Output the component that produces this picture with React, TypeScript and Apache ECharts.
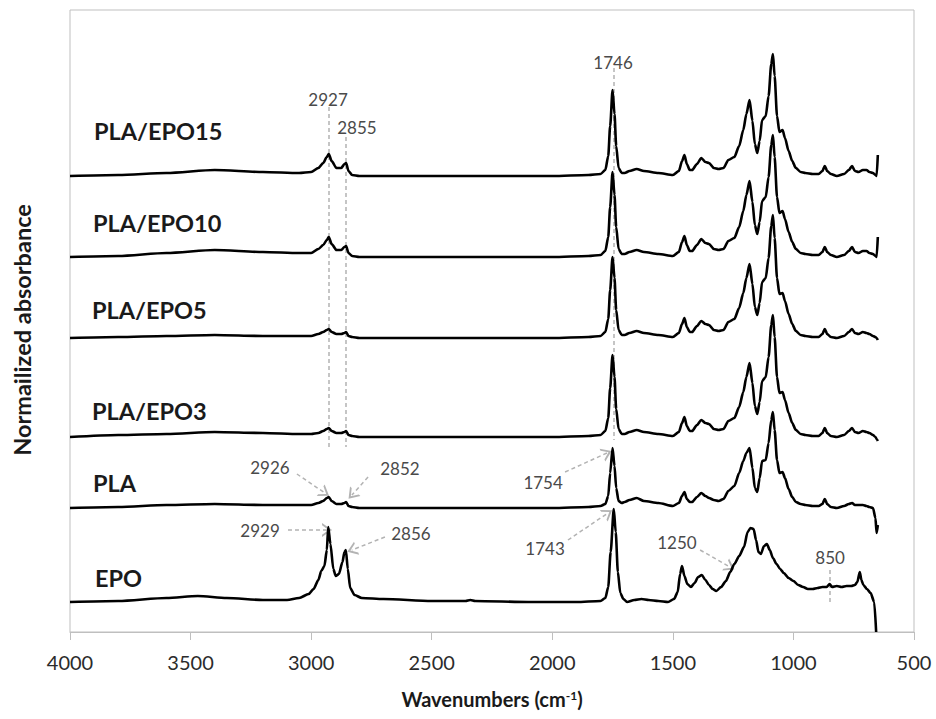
import React, { useEffect, useRef } from "react";
import * as echarts from "echarts";

// ---------- DATA ----------
// Wavenumbers (cm-1) shared by the PLA-based spectra
const plaWavenumbers = [
  4000, 3800, 3600, 3400, 3200, 3050, 3000, 2970, 2950, 2935,
  2927, 2915, 2895, 2875, 2862, 2855, 2845, 2830, 2800, 2600,
  2400, 2200, 2000, 1850, 1800, 1780, 1768, 1760, 1750, 1742,
  1735, 1725, 1712, 1700, 1680, 1650, 1620, 1560, 1500, 1475,
  1462, 1452, 1442, 1430, 1420, 1400, 1382, 1365, 1350, 1330,
  1310, 1290, 1270, 1245, 1225, 1208, 1195, 1182, 1170, 1160,
  1150, 1140, 1130, 1115, 1103, 1092, 1085, 1078, 1068, 1058,
  1045, 1035, 1020, 1005, 990, 970, 950, 920, 895, 880,
  870, 860, 845, 820, 790, 770, 757, 745, 730, 712,
  697, 685, 670, 660, 655, 650,
];

// Normalized absorbance of each spectrum (relative to its own baseline)
const plaEpo15 = [
  0.00, 0.01, 0.03, 0.06, 0.04, 0.03, 0.04, 0.08, 0.13, 0.19,
  0.22, 0.15, 0.08, 0.08, 0.12, 0.13, 0.05, 0.01, 0.00, 0.00,
  0.00, 0.00, 0.00, 0.01, 0.02, 0.06, 0.20, 0.50, 0.86, 0.62,
  0.30, 0.08, 0.03, 0.03, 0.05, 0.07, 0.05, 0.03, 0.01, 0.05,
  0.15, 0.21, 0.12, 0.06, 0.06, 0.12, 0.18, 0.14, 0.13, 0.08,
  0.07, 0.08, 0.16, 0.19, 0.30, 0.46, 0.62, 0.76, 0.55, 0.32,
  0.23, 0.35, 0.56, 0.60, 0.80, 1.12, 1.22, 1.00, 0.60, 0.44,
  0.46, 0.38, 0.25, 0.15, 0.08, 0.04, 0.03, 0.02, 0.02, 0.05,
  0.10, 0.05, 0.02, 0.00, 0.02, 0.06, 0.10, 0.05, 0.04, 0.06,
  0.06, 0.04, 0.03, 0.01, 0.00, 0.21,
];
const plaEpo10 = [
  0.00, 0.01, 0.04, 0.07, 0.05, 0.04, 0.04, 0.08, 0.12, 0.17,
  0.20, 0.13, 0.07, 0.07, 0.10, 0.11, 0.04, 0.01, 0.00, 0.00,
  0.00, 0.00, 0.00, 0.01, 0.02, 0.06, 0.20, 0.50, 0.85, 0.62,
  0.30, 0.08, 0.03, 0.03, 0.05, 0.07, 0.05, 0.03, 0.01, 0.05,
  0.15, 0.21, 0.12, 0.06, 0.06, 0.12, 0.18, 0.14, 0.13, 0.08,
  0.07, 0.08, 0.16, 0.19, 0.30, 0.46, 0.62, 0.76, 0.55, 0.32,
  0.23, 0.35, 0.56, 0.60, 0.80, 1.12, 1.22, 1.00, 0.60, 0.44,
  0.46, 0.38, 0.25, 0.15, 0.08, 0.04, 0.03, 0.02, 0.02, 0.05,
  0.10, 0.05, 0.02, 0.00, 0.02, 0.06, 0.10, 0.05, 0.04, 0.06,
  0.06, 0.04, 0.03, 0.01, 0.00, 0.20,
];
const plaEpo5 = [
  0.00, 0.01, 0.02, 0.03, 0.02, 0.02, 0.02, 0.04, 0.06, 0.08,
  0.09, 0.06, 0.04, 0.04, 0.05, 0.06, 0.02, 0.01, 0.00, 0.00,
  0.00, 0.00, 0.00, 0.01, 0.02, 0.06, 0.19, 0.48, 0.81, 0.60,
  0.28, 0.08, 0.03, 0.03, 0.05, 0.07, 0.05, 0.03, 0.01, 0.05,
  0.14, 0.20, 0.11, 0.06, 0.06, 0.12, 0.17, 0.14, 0.13, 0.08,
  0.07, 0.08, 0.16, 0.19, 0.30, 0.45, 0.60, 0.74, 0.54, 0.31,
  0.23, 0.35, 0.56, 0.60, 0.80, 1.12, 1.23, 1.00, 0.60, 0.44,
  0.45, 0.37, 0.24, 0.14, 0.07, 0.03, 0.02, 0.01, 0.01, 0.04,
  0.09, 0.04, 0.01, 0.00, 0.02, 0.06, 0.09, 0.05, 0.04, 0.06,
  0.05, 0.04, 0.02, 0.01, 0.00, -0.02,
];
const plaEpo3 = [
  0.00, 0.02, 0.03, 0.05, 0.04, 0.03, 0.03, 0.04, 0.06, 0.08,
  0.09, 0.06, 0.04, 0.04, 0.05, 0.06, 0.02, 0.01, 0.00, 0.00,
  0.00, 0.00, 0.00, 0.01, 0.02, 0.06, 0.19, 0.49, 0.82, 0.60,
  0.28, 0.08, 0.03, 0.03, 0.05, 0.07, 0.05, 0.03, 0.01, 0.05,
  0.14, 0.20, 0.11, 0.06, 0.06, 0.12, 0.17, 0.14, 0.13, 0.08,
  0.07, 0.08, 0.16, 0.19, 0.30, 0.45, 0.60, 0.74, 0.54, 0.31,
  0.23, 0.35, 0.56, 0.60, 0.80, 1.12, 1.22, 1.00, 0.60, 0.44,
  0.45, 0.37, 0.24, 0.14, 0.07, 0.03, 0.02, 0.01, 0.01, 0.04,
  0.09, 0.04, 0.01, 0.00, 0.02, 0.06, 0.09, 0.05, 0.04, 0.06,
  0.05, 0.04, 0.02, 0.00, -0.02, -0.04,
];
const pla = [
  0.00, 0.01, 0.03, 0.04, 0.03, 0.03, 0.03, 0.05, 0.07, 0.10,
  0.11, 0.07, 0.04, 0.04, 0.05, 0.06, 0.02, 0.01, 0.00, 0.00,
  0.00, 0.00, 0.00, 0.01, 0.02, 0.04, 0.12, 0.35, 0.60, 0.42,
  0.20, 0.07, 0.05, 0.06, 0.08, 0.10, 0.07, 0.05, 0.02, 0.05,
  0.12, 0.16, 0.09, 0.06, 0.06, 0.11, 0.15, 0.12, 0.10, 0.08,
  0.07, 0.09, 0.17, 0.22, 0.35, 0.47, 0.55, 0.60, 0.40, 0.20,
  0.16, 0.30, 0.47, 0.48, 0.65, 0.88, 0.96, 0.78, 0.48, 0.35,
  0.36, 0.30, 0.19, 0.11, 0.06, 0.04, 0.03, 0.02, 0.02, 0.04,
  0.09, 0.04, 0.01, 0.00, 0.02, 0.04, 0.05, 0.03, 0.03, 0.03,
  0.02, 0.01, 0.00, -0.10, -0.25, -0.17,
];

// EPO spectrum
const epoWavenumbers = [
  4000, 3800, 3600, 3470, 3350, 3200, 3100, 3050, 3010, 2990,
  2970, 2958, 2945, 2935, 2929, 2920, 2908, 2898, 2885, 2870,
  2862, 2856, 2848, 2838, 2820, 2790, 2700, 2500, 2360, 2340,
  2320, 2100, 1900, 1800, 1780, 1768, 1758, 1745, 1737, 1728,
  1718, 1705, 1690, 1660, 1630, 1600, 1560, 1520, 1495, 1480,
  1470, 1462, 1452, 1440, 1425, 1410, 1395, 1380, 1365, 1350,
  1335, 1320, 1300, 1280, 1262, 1245, 1225, 1205, 1190, 1178,
  1165, 1155, 1145, 1135, 1122, 1110, 1098, 1085, 1070, 1055,
  1040, 1020, 1000, 980, 960, 940, 920, 900, 880, 862,
  850, 840, 820, 800, 780, 760, 745, 735, 725, 718,
  710, 695, 680, 665, 657,
];
const epo = [
  0.00, 0.01, 0.04, 0.06, 0.04, 0.02, 0.02, 0.04, 0.08, 0.13,
  0.22, 0.31, 0.36, 0.52, 0.75, 0.58, 0.33, 0.26, 0.28, 0.40,
  0.50, 0.52, 0.33, 0.14, 0.07, 0.04, 0.03, 0.01, 0.01, 0.02,
  0.01, 0.00, 0.00, 0.01, 0.04, 0.15, 0.50, 0.93, 0.70, 0.30,
  0.09, 0.03, 0.00, 0.02, 0.03, 0.02, 0.01, 0.00, 0.03, 0.10,
  0.28, 0.36, 0.26, 0.18, 0.15, 0.19, 0.25, 0.27, 0.22, 0.17,
  0.13, 0.11, 0.15, 0.21, 0.30, 0.38, 0.46, 0.55, 0.70, 0.74,
  0.73, 0.62, 0.50, 0.48, 0.56, 0.58, 0.52, 0.44, 0.38, 0.33,
  0.29, 0.24, 0.21, 0.17, 0.15, 0.13, 0.13, 0.14, 0.15, 0.15,
  0.18, 0.15, 0.16, 0.15, 0.16, 0.16, 0.17, 0.20, 0.30, 0.22,
  0.17, 0.13, 0.09, 0.00, -0.30,
];

const plaSeriesNames = ["PLA/EPO15", "PLA/EPO10", "PLA/EPO5", "PLA/EPO3", "PLA"];
const plaSeriesValues = [plaEpo15, plaEpo10, plaEpo5, plaEpo3, pla];
// vertical stacking offsets of the spectra
const plaOffsets = [4.56, 3.75, 2.94, 1.95, 1.24];
const epoName = "EPO";
const epoOffset = 0.3;

const xTickLabels = [4000, 3500, 3000, 2500, 2000, 1500, 1000, 500];

// ---------- ANNOTATION LAYOUT ----------
const guideLines = [
  // [wavenumber, from, to]
  [2927, 5.25, 1.85],
  [2855, 4.95, 1.85],
  [1746, 5.64, 1.92],
  [850, 0.62, 0.3],
];
const arrowLines = [
  // [x1, y1, x2, y2]
  [3059, 1.58, 2943, 1.39],
  [2764, 1.55, 2831, 1.37],
  [3096, 1.02, 2934, 1.02],
  [2694, 0.95, 2831, 0.82],
  [1947, 1.6, 1773, 1.79],
  [1935, 0.92, 1769, 1.19],
  [1387, 0.82, 1263, 0.65],
];
const peakLabels: [string, number, number][] = [
  ["2927", 2930, 5.33],
  ["2855", 2810, 5.05],
  ["1746", 1748, 5.7],
  ["2926", 3171, 1.65],
  ["2852", 2632, 1.64],
  ["2929", 3212, 1.02],
  ["2856", 2586, 0.99],
  ["1754", 2038, 1.5],
  ["1743", 2030, 0.84],
  ["1250", 1483, 0.9],
  ["850", 848, 0.75],
];
const nameLabelPos = [
  [94, 133],
  [93, 225],
  [92, 312],
  [92, 413],
  [93, 485],
  [95, 580],
];

const chevron = "path://M5,0 L10,10 L8.4,10 L5,3.4 L1.6,10 L0,10 Z";
const FONT = "Lato, 'Open Sans', sans-serif";

export default function App() {
  const ref = useRef<HTMLDivElement>(null);
  useEffect(() => {
    if (!ref.current) return;
    const chart = echarts.init(ref.current, undefined, { renderer: "svg" });

    const lineStyle = { color: "#000", width: 2.6 };
    const plaSeries = plaSeriesNames.map((name, i) => ({
      name,
      type: "line",
      showSymbol: false,
      symbol: "none",
      smooth: 0.25,
      smoothMonotone: "x",
      lineStyle,
      z: 3,
      data: plaWavenumbers.map((w, j) => [w, plaSeriesValues[i][j] + plaOffsets[i]]),
    }));

    const markLineData: any[] = [];
    guideLines.forEach(([w, a, b]) => {
      markLineData.push([
        { coord: [w, a], symbol: "none" },
        { coord: [w, b], symbol: "none" },
      ]);
    });
    arrowLines.forEach(([x1, y1, x2, y2]) => {
      markLineData.push([
        { coord: [x1, y1], symbol: "none" },
        { coord: [x2, y2], symbol: chevron, symbolSize: [14, 10] },
      ]);
    });

    const epoSeries = {
      name: epoName,
      type: "line",
      showSymbol: false,
      symbol: "none",
      smooth: 0.25,
      smoothMonotone: "x",
      lineStyle,
      z: 3,
      data: epoWavenumbers.map((w, j) => [w, epo[j] + epoOffset]),
      markLine: {
        silent: true,
        animation: false,
        z: 1,
        symbol: ["none", "none"],
        label: { show: false },
        lineStyle: { color: "#b3b3b3", width: 1.5, type: [4, 3] },
        emphasis: { disabled: true },
        data: markLineData,
      },
      markPoint: {
        silent: true,
        animation: false,
        symbol: "rect",
        symbolSize: 1,
        itemStyle: { color: "rgba(0,0,0,0)" },
        label: {
          show: true,
          position: "inside",
          formatter: "{b}",
          fontFamily: FONT,
          fontSize: 17,
          color: "#4a4a4a",
        },
        data: peakLabels.map(([t, w, v]) => ({ name: t, coord: [w, v] })),
      },
    };

    const allNames = [...plaSeriesNames, epoName];
    const graphic: any[] = allNames.map((n, i) => ({
      type: "text",
      left: nameLabelPos[i][0],
      top: nameLabelPos[i][1] - 14,
      style: {
        text: n,
        fontFamily: FONT,
        fontWeight: "bold",
        fontSize: 23.5,
        fill: "#1a1a1a",
      },
    }));
    graphic.push({
      type: "text",
      x: 22,
      y: 330,
      rotation: Math.PI / 2,
      style: {
        text: "Normailized absorbance",
        fontFamily: FONT,
        fontWeight: "bold",
        fontSize: 23.5,
        fill: "#1a1a1a",
        align: "center",
        verticalAlign: "middle",
      },
    });

    chart.setOption({
      animation: false,
      backgroundColor: "#fff",
      grid: {
        left: 70,
        right: 22,
        top: 10,
        bottom: 87,
        show: true,
        borderColor: "#bfbfbf",
        borderWidth: 1,
      },
      xAxis: {
        type: "value",
        inverse: true,
        min: xTickLabels[xTickLabels.length - 1],
        max: xTickLabels[0],
        interval: 500,
        axisLine: { show: true, lineStyle: { color: "#bfbfbf", width: 1 } },
        axisTick: { show: true, length: 8, lineStyle: { color: "#bfbfbf" } },
        splitLine: { show: false },
        axisLabel: {
          margin: 20,
          fontFamily: FONT,
          fontSize: 20,
          color: "#2b2b2b",
          formatter: (v: number) => String(v),
        },
        name: "Wavenumbers (cm{sup|-1})",
        nameLocation: "middle",
        nameGap: 57,
        nameTextStyle: {
          fontFamily: FONT,
          fontWeight: "bold",
          fontSize: 20,
          color: "#1a1a1a",
          rich: {
            sup: {
              fontFamily: FONT,
              fontWeight: "bold",
              fontSize: 12,
              color: "#1a1a1a",
              verticalAlign: "top",
            },
          },
        },
      },
      yAxis: { type: "value", min: 0, max: 6.22, show: false },
      series: [...plaSeries, epoSeries],
      graphic,
    });
    return () => chart.dispose();
  }, []);
  return (
    <div
      ref={ref}
      style={{ position: "fixed", left: 0, top: 0, width: 936, height: 719 }}
    />
  );
}
